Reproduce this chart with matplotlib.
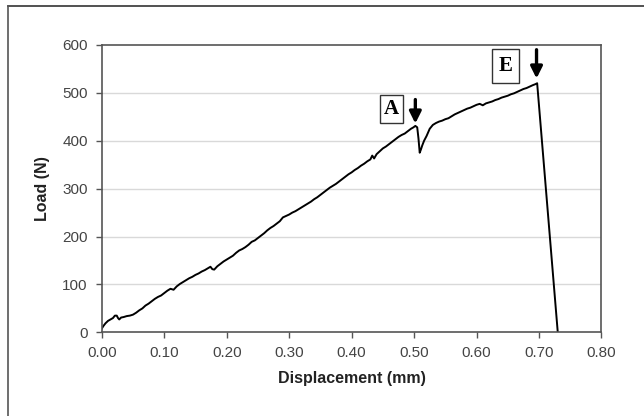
import matplotlib
matplotlib.use("Agg")
from matplotlib import pyplot as plt
from matplotlib.lines import Line2D

# load-displacement curve
displacement = [
    0.000, 0.003, 0.006, 0.010, 0.014, 0.018, 0.021, 0.024, 0.026, 0.028,
    0.031, 0.035, 0.040, 0.045, 0.050, 0.055, 0.060, 0.065, 0.070, 0.075,
    0.080, 0.085, 0.090, 0.095, 0.100, 0.105, 0.110, 0.115, 0.120, 0.125,
    0.130, 0.135, 0.140, 0.145, 0.150, 0.155, 0.160, 0.165, 0.170, 0.174,
    0.177, 0.180, 0.185, 0.190, 0.195, 0.200, 0.205, 0.210, 0.215, 0.220,
    0.225, 0.230, 0.235, 0.240, 0.245, 0.250, 0.255, 0.260, 0.265, 0.270,
    0.275, 0.280, 0.285, 0.290, 0.295, 0.300, 0.305, 0.310, 0.315, 0.320,
    0.325, 0.330, 0.335, 0.340, 0.345, 0.350, 0.355, 0.360, 0.365, 0.370,
    0.375, 0.380, 0.385, 0.390, 0.395, 0.400, 0.405, 0.410, 0.415, 0.420,
    0.425, 0.430, 0.433, 0.436, 0.440, 0.445, 0.450, 0.455, 0.460, 0.465,
    0.470, 0.475, 0.480, 0.485, 0.490, 0.495, 0.499, 0.502, 0.505, 0.507,
    0.509, 0.511, 0.513, 0.516, 0.520, 0.525, 0.530, 0.535, 0.540, 0.545,
    0.550, 0.555, 0.560, 0.565, 0.570, 0.575, 0.580, 0.585, 0.590, 0.595,
    0.600, 0.605, 0.610, 0.615, 0.620, 0.625, 0.630, 0.635, 0.640, 0.645,
    0.650, 0.655, 0.660, 0.665, 0.670, 0.675, 0.680, 0.685, 0.690, 0.694,
    0.697, 0.730,
]
load = [
    8, 14, 19, 24, 27, 30, 35, 35, 30, 27,
    31, 32, 34, 35, 37, 41, 46, 50, 56, 60,
    65, 70, 74, 77, 82, 87, 91, 89, 96, 101,
    105, 109, 113, 116, 120, 123, 127, 130, 134, 137,
    132, 131, 138, 143, 148, 152, 156, 160, 166, 171,
    174, 178, 183, 189, 192, 197, 202, 207, 213, 218,
    222, 227, 232, 240, 243, 246, 250, 253, 257, 261,
    265, 269, 273, 278, 282, 287, 292, 297, 302, 306,
    310, 315, 320, 325, 330, 334, 339, 343, 348, 352,
    357, 361, 369, 363, 372, 378, 384, 388, 393, 398,
    403, 408, 412, 415, 420, 425, 428, 431, 428, 405,
    375, 382, 390, 400, 410, 425, 433, 437, 440, 442,
    445, 447, 451, 455, 458, 461, 464, 467, 469, 472,
    475, 477, 474, 478, 480, 482, 485, 487, 490, 492,
    494, 497, 499, 502, 505, 508, 510, 513, 516, 518,
    520, 0,
]

x_ticks = [0.00, 0.10, 0.20, 0.30, 0.40, 0.50, 0.60, 0.70, 0.80]
y_ticks = [0, 100, 200, 300, 400, 500, 600]

# marked events: (label, box x, box y, box pad, arrow x, arrow top, arrow tip)
events = [
    ("A", 0.464, 466, 0.18, 0.502, 486, 436),
    ("E", 0.646, 556, 0.32, 0.696, 590, 530),
]

plt.rcParams["font.family"] = ["Liberation Sans", "DejaVu Sans"]

fig = plt.figure(figsize=(6.44, 4.16), dpi=100)
ax = fig.add_axes([0.158, 0.201, 0.776, 0.691])

for y in y_ticks[1:-1]:
    ax.axhline(y, color="#d9d9d9", linewidth=1.0, zorder=0)

ax.plot(displacement, load, color="black", linewidth=1.4)

ax.set_xlim(0, 0.8)
ax.set_ylim(0, 600)
ax.set_xticks(x_ticks)
ax.set_xticklabels([f"{t:.2f}" for t in x_ticks])
ax.set_yticks(y_ticks)
ax.tick_params(direction="out", length=4, width=1, color="#555555",
               labelsize=11, labelcolor="#444444", pad=6)
for spine in ax.spines.values():
    spine.set_color("#555555")
    spine.set_linewidth(1.2)

ax.set_xlabel("Displacement (mm)", fontsize=11.5, fontweight="bold",
              color="#222222", labelpad=8)
ax.set_ylabel("Load (N)", fontsize=11.5, fontweight="bold",
              color="#222222", labelpad=9)

for name, bx, by, pad, arx, top, tip in events:
    ax.text(bx, by, name, family="Liberation Serif", fontweight="bold",
            fontsize=15, ha="center", va="center",
            bbox=dict(boxstyle=f"square,pad={pad}", facecolor="white",
                      edgecolor="#333333", linewidth=1.0))
    ax.annotate("", xy=(arx, tip), xytext=(arx, top),
                arrowprops=dict(arrowstyle="-|>,head_width=0.35,head_length=0.7",
                                color="black", linewidth=2.4, shrinkA=0, shrinkB=0))

# outer frame of the original figure (top and left edges)
fig.add_artist(Line2D([8 / 644, 1], [1 - 6 / 416, 1 - 6 / 416],
                      transform=fig.transFigure, color="#333333", linewidth=1.2))
fig.add_artist(Line2D([8 / 644, 8 / 644], [0, 1 - 6 / 416],
                      transform=fig.transFigure, color="#555555", linewidth=1.2))

fig.savefig("out.png", dpi=100)
